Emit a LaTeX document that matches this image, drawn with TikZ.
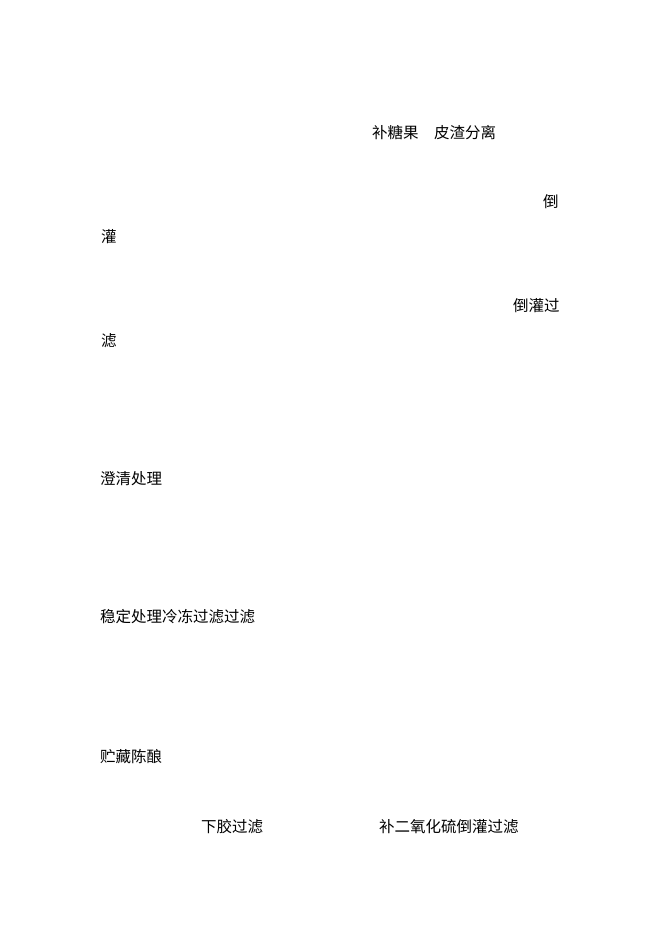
\documentclass[tikz,border=0pt]{standalone}
\usepackage{fontspec}
\newfontfamily\cjk{Noto Sans CJK SC}
\tikzset{
  steptext/.style={anchor=west,inner sep=0pt,font=\cjk\fontsize{15.5pt}{15.5pt}\selectfont}
}

\begin{document}
\begin{tikzpicture}[x=1pt,y=-1pt]
\useasboundingbox[fill=white] (0,0) rectangle (662,936);
%\draw[help lines, color=gray!30, dashed] (0,0) grid[step=50] (662,936);
\node[steptext] (sugar) at (372,132.5) {补糖果　皮渣分离};
\node[steptext] (dao) at (543,202) {倒};
\node[steptext] (guan) at (101,236.5) {灌};
\node[steptext] (rack) at (513,306) {倒灌过};
\node[steptext] (lv) at (101,340.5) {滤};
\node[steptext] (clarify) at (100,478.5) {澄清处理};
\node[steptext] (stable) at (100,617) {稳定处理冷冻过滤过滤};
\node[steptext] (age) at (100,756.5) {贮藏陈酿};
\node[steptext] (fining) at (201,827) {下胶过滤};
\node[steptext] (sulfur) at (379,827) {补二氧化硫倒灌过滤};
\end{tikzpicture}
\end{document}
